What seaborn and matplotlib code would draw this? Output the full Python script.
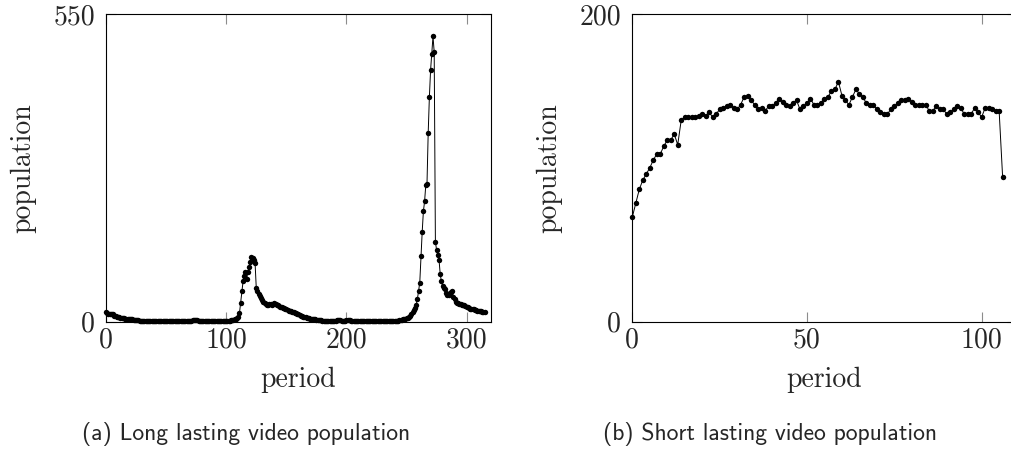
import numpy as np
import pandas as pd
import matplotlib
matplotlib.use("Agg")
import matplotlib.pyplot as plt
import seaborn as sns

# ---------------- data ----------------
long_population = [
    17, 15, 14, 13, 14, 14, 13, 11, 10, 9,
    8, 8, 7, 7, 6, 6, 5, 5, 5, 4,
    4, 4, 4, 3, 3, 3, 3, 3, 2, 2,
    2, 2, 2, 2, 2, 2, 1, 1, 1, 1,
    1, 1, 1, 1, 1, 1, 1, 1, 1, 1,
    1, 1, 1, 1, 1, 1, 1, 1, 1, 1,
    1, 1, 1, 1, 1, 1, 2, 2, 2, 2,
    2, 2, 3, 3, 3, 3, 3, 2, 2, 2,
    2, 2, 2, 1, 1, 1, 1, 1, 1, 1,
    1, 1, 2, 2, 2, 1, 1, 1, 1, 2,
    2, 2, 2, 2, 3, 3, 3, 4, 5, 6,
    8, 15, 34, 54, 72, 82, 88, 76, 89, 98,
    107, 115, 113, 110, 105, 60, 55, 50, 46, 42,
    38, 35, 33, 32, 30, 30, 31, 31, 30, 32,
    33, 32, 30, 29, 28, 27, 26, 25, 24, 23,
    22, 21, 20, 19, 19, 18, 17, 16, 15, 14,
    13, 12, 11, 10, 9, 8, 8, 7, 6, 6,
    5, 5, 4, 4, 4, 3, 3, 3, 3, 3,
    2, 2, 2, 2, 2, 2, 2, 2, 2, 2,
    2, 2, 3, 3, 3, 3, 2, 2, 2, 2,
    3, 3, 3, 3, 2, 2, 2, 2, 2, 2,
    2, 2, 2, 1, 1, 1, 1, 1, 1, 1,
    1, 1, 1, 1, 1, 1, 1, 1, 1, 1,
    1, 1, 1, 1, 1, 1, 2, 2, 2, 2,
    2, 2, 2, 2, 3, 3, 3, 4, 4, 5,
    6, 7, 9, 11, 14, 17, 21, 25, 30, 40,
    55, 70, 117, 160, 197, 215, 244, 246, 337, 402,
    450, 479, 510, 482, 143, 128, 119, 111, 85, 72,
    64, 60, 58, 52, 48, 47, 51, 53, 54, 44,
    40, 36, 34, 33, 32, 31, 30, 30, 29, 28,
    27, 26, 24, 23, 23, 22, 22, 21, 21, 20,
    20, 20, 19, 18, 18, 17,
]

short_population = [
    68, 77, 86, 92, 96, 100, 105, 109, 109, 114,
    118, 118, 122, 115, 131, 133, 133, 133, 133, 134,
    135, 134, 136, 133, 135, 138, 139, 140, 141, 139,
    138, 141, 146, 147, 144, 141, 138, 139, 137, 140,
    140, 142, 145, 143, 141, 140, 142, 144, 138, 140,
    142, 145, 141, 141, 142, 145, 146, 150, 151, 156,
    147, 144, 141, 146, 151, 148, 146, 142, 141, 141,
    138, 136, 135, 135, 138, 140, 142, 144, 144, 145,
    143, 141, 141, 141, 141, 137, 137, 140, 138, 138,
    135, 136, 138, 140, 139, 135, 135, 135, 139, 136,
    133, 139, 139, 138, 137, 137, 94,
]

long_xlim = (0, 320)
long_yticks = [0, 550]
long_xticks = [0, 100, 200, 300]
short_xlim = (0, 110)
short_yticks = [0, 200]
short_xticks = [0, 50, 100]

x_label = "period"
y_label = "population"
caption_a = "(a) Long lasting video population"
caption_b = "(b) Short lasting video population"

# ---------------- style ----------------
sns.set_theme(style="white")
plt.rcParams["font.family"] = ["cmr10", "DejaVu Serif"]
plt.rcParams["axes.formatter.use_mathtext"] = True
plt.rcParams["mathtext.fontset"] = "cm"

W, H = 1012, 451
fig = plt.figure(figsize=(W / 100, H / 100), dpi=100)

def px_axes(x0, x1, y0, y1):
    return fig.add_axes([x0 / W, 1 - y1 / H, (x1 - x0) / W, (y1 - y0) / H])

ax_a = px_axes(106, 490.7, 14, 321.7)
ax_b = px_axes(632.3, 1016.6, 14, 321.7)

df_a = pd.DataFrame({"period": np.arange(len(long_population)), "population": long_population})
df_b = pd.DataFrame({"period": np.arange(len(short_population)), "population": short_population})

TICK_FS = 20
LABEL_FS = 20

for ax, df, xlim, xt, yt in [
    (ax_a, df_a, long_xlim, long_xticks, long_yticks),
    (ax_b, df_b, short_xlim, short_xticks, short_yticks),
]:
    sns.lineplot(data=df, x="period", y="population", ax=ax, color="black",
                 marker="o", markersize=3.9, markeredgewidth=0,
                 linewidth=0.7, clip_on=False)
    ax.set_xlim(*xlim)
    ax.set_ylim(yt[0], yt[-1])
    ax.set_xticks(xt)
    ax.set_yticks(yt)
    ax.set_xticklabels([str(v) for v in xt], fontsize=TICK_FS)
    ax.set_yticklabels([str(v) for v in yt], fontsize=TICK_FS)
    ax.tick_params(axis="x", direction="in", length=7, width=0.8, color="#8c8c8c",
                   top=True, bottom=True, pad=4)
    ax.tick_params(axis="y", direction="in", length=7, width=0.8, color="#8c8c8c",
                   left=True, right=True, pad=8)
    for s in ax.spines.values():
        s.set_color("black")
        s.set_linewidth(0.8)
        s.set_visible(True)
    ax.grid(False)
    ax.set_xlabel(x_label, fontsize=LABEL_FS, va="center")
    ax.set_ylabel(y_label, fontsize=LABEL_FS, va="center")
    ax.xaxis.set_label_coords(0.5, (321.7 - 380) / 307.7)

ax_a.yaxis.set_label_coords((23 - 106) / 384.7, 0.5)
ax_b.yaxis.set_label_coords((549 - 632.3) / 384.3, 0.5)

fig.text(246 / W, 1 - 433.7 / H, caption_a, ha="center", va="center",
         fontsize=17, family=["cmss10", "DejaVu Sans"])
fig.text(770 / W, 1 - 433.7 / H, caption_b, ha="center", va="center",
         fontsize=17, family=["cmss10", "DejaVu Sans"])

fig.savefig("out.png", dpi=100)
